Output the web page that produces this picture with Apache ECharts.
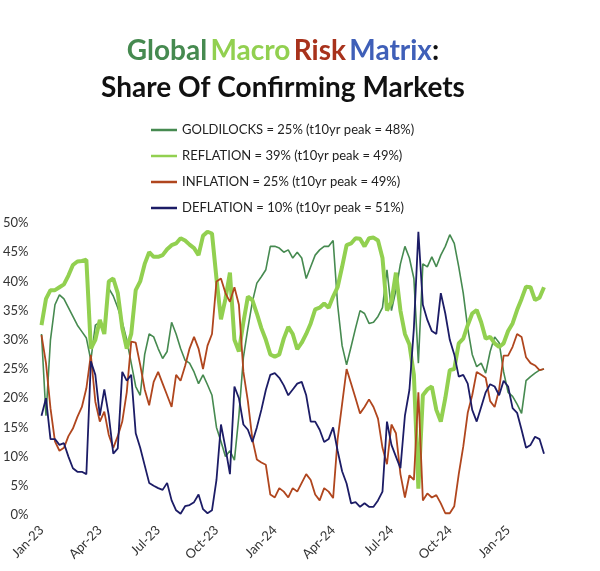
<!DOCTYPE html>
<html>
<head>
<meta charset="utf-8">
<script src="https://cdn.jsdelivr.net/npm/echarts@6.0.0/dist/echarts.min.js"></script>
<style>
  html, body { margin: 0; padding: 0; background: #fff; }
  #chart { width: 600px; height: 571px; }
</style>
</head>
<body>
<div id="chart"></div>
<script>
// weekly readings, first week of Jan 2023 to late Feb 2025
const startDate = new Date(Date.UTC(2023, 0, 2));
const weekCount = 113;
const weeks = [];
for (let i = 0; i < weekCount; i++) {
  const d = new Date(startDate.getTime() + i * 7 * 86400000);
  weeks.push(d.toISOString().slice(0, 10));
}

// one label every 13 weeks
const tickLabels = ['Jan-23', 'Apr-23', 'Jul-23', 'Oct-23', 'Jan-24', 'Apr-24', 'Jul-24', 'Oct-24', 'Jan-25'];

const seriesNames = [
  'GOLDILOCKS = 25% (t10yr peak = 48%)',
  'REFLATION = 39% (t10yr peak = 49%)',
  'INFLATION = 25% (t10yr peak = 49%)',
  'DEFLATION = 10% (t10yr peak = 51%)'
];

const goldilocks = [
  31, 17, 30, 36, 37.7, 37, 35.5, 34, 32.5, 31.4, 30.3, 26.5, 32.5, 33, 32, 38.8,
  37.5, 35.5, 33, 30, 26, 22, 20.5, 27.5, 31, 30.5, 28.5, 26.8, 28, 33, 31, 28.5,
  26.5, 26, 24.5, 22.5, 24, 22.3, 20.5, 15, 12.6, 10, 11, 9.4, 17, 27, 32, 36.5,
  39.7, 40.8, 42, 46, 46, 45.7, 45, 45.4, 44, 45, 44, 40.5, 42.5, 44.5, 45.4, 46,
  46, 47, 36, 29, 25.7, 28.8, 32, 35, 34.5, 32.8, 33, 34, 35.5, 42, 35, 38.5,
  43, 46, 44, 40.5, 26, 43, 42.5, 44.2, 42.5, 44.5, 46, 48, 46.5, 42.5, 38, 32,
  27.5, 25.4, 26, 24.3, 28, 30.5, 29.5, 24.5, 21, 20.3, 19, 17.4, 23, 23.7, 24.3, 24.8,
  25
];

const reflation = [
  32.5, 37, 38.5, 38.5, 39, 39.5, 41, 42.8, 43.4, 43.5, 43.7, 28.5, 30, 33.4, 31, 40,
  40.5, 38, 32, 28.5, 31, 38.5, 40, 43, 45, 44.2, 44.2, 44.5, 45.5, 46.2, 46.5, 47.4,
  47, 46.3, 45.7, 44.5, 47.8, 48.5, 48.2, 40.5, 33.5, 37, 41.5, 30, 28, 33, 37.4, 36.8,
  34.5, 32, 30, 27.5, 27.1, 27.5, 30.2, 32.2, 31, 28.4, 29.5, 31, 32.8, 35.2, 35.5, 36.2,
  35.5, 37.4, 39, 42.5, 46.2, 46.5, 47.4, 47.3, 46, 47.4, 47.5, 47, 44, 35, 36.5, 41.5,
  35, 31, 29.2, 24, 4.5, 20.5, 21.5, 22, 18, 16, 20, 24.8, 25, 29.4, 30.2, 32.5,
  34.5, 35.1, 33, 30.2, 30.5, 29.4, 28.8, 29.4, 31.5, 32.8, 35.1, 37, 39.1, 39, 36.8, 37.2,
  39
];

const inflation = [
  30.8, 26, 18.3, 12.6, 11, 11.5, 13.5, 14.8, 16.8, 18.5, 21.7, 27.4, 19.4, 16, 17.7, 13.7,
  11.5, 13.5, 16, 21, 29.7, 29.5, 25.7, 21.5, 18.8, 22.8, 24.5, 22.5, 20.5, 18.5, 24, 23,
  25.5, 28.5, 30.5, 28.5, 25, 29, 31, 40, 40.5, 38, 36.5, 39, 36, 24.5, 19.5, 13,
  9.5, 9, 8.6, 3.5, 3, 4.6, 4, 3, 4.6, 4, 5.5, 7, 6, 3.5, 2.5, 4.6,
  4, 2.9, 13, 19, 25, 22.5, 20, 17.4, 18.5, 19.8, 18.5, 16.5, 11.5, 8.7, 15.5, 14,
  7, 3, 6.8, 6, 21, 2.5, 3.7, 3, 3.4, 2, 0.3, 0.3, 1.5, 7, 11.7, 17.5,
  20.5, 24.5, 24, 23.5, 19.5, 18.5, 21.5, 27.3, 27.3, 28.8, 31, 30.5, 27, 26, 25.6, 24.8,
  25
];

const deflation = [
  17, 20, 13, 13, 12, 12.3, 10, 8, 7.4, 7.4, 7, 26.3, 24, 17, 21.5, 17,
  10.5, 11.4, 24.5, 23, 24, 14, 11.5, 8.5, 5.5, 5, 4.6, 4.3, 5.5, 2.5, 0.8, 0.2,
  1.5, 1.7, 2.2, 3.5, 1, 0.3, 0.8, 6, 15.5, 11.5, 7, 22, 20, 15.5, 14.6, 12.5,
  15, 18, 21.4, 24, 24.3, 23.5, 22.2, 20.5, 21.5, 22.5, 22.8, 20.5, 16, 16, 14.6, 12.5,
  13, 15, 11, 7.5, 5.4, 2, 2.2, 1.4, 2, 1.4, 1.4, 2.5, 4, 16, 12, 10,
  8, 17, 21.4, 32, 48.5, 36, 33.4, 31.5, 31, 38, 34.5, 30, 27.5, 23.7, 24, 22.5,
  18, 16, 18.5, 21, 22.4, 22, 20.5, 23, 22, 18.3, 17.5, 14.6, 11.5, 12, 13.4, 13,
  10.5
];

const colors = ['#468a50', '#92d050', '#b0461e', '#1c1c66'];
const widths = [1.6, 4, 1.8, 1.8];
const values = [goldilocks, reflation, inflation, deflation];

const chart = echarts.init(document.getElementById('chart'), null, { renderer: 'canvas' });

const font = 'Lato, "Open Sans", sans-serif';
const titleSize = 28;

chart.setOption({
  animation: false,
  backgroundColor: '#fff',
  graphic: [
    {
      type: 'text',
      x: 283,
      y: 51,
      style: {
        text: '{g|Global} {m|Macro} {r|Risk} {b|Matrix}{k|:}',
        textAlign: 'center',
        textVerticalAlign: 'middle',
        rich: {
          g: { fontFamily: font, fontWeight: 'bold', fontSize: titleSize, fill: '#468a50' },
          m: { fontFamily: font, fontWeight: 'bold', fontSize: titleSize, fill: '#92d050' },
          r: { fontFamily: font, fontWeight: 'bold', fontSize: titleSize, fill: '#a8321c' },
          b: { fontFamily: font, fontWeight: 'bold', fontSize: titleSize, fill: '#3f5fb8' },
          k: { fontFamily: font, fontWeight: 'bold', fontSize: titleSize, fill: '#111' }
        }
      }
    },
    {
      type: 'text',
      x: 283,
      y: 88,
      style: {
        text: 'Share Of Confirming Markets',
        textAlign: 'center',
        textVerticalAlign: 'middle',
        fontFamily: font,
        fontWeight: 'bold',
        fontSize: titleSize,
        fill: '#111'
      }
    }
  ],
  legend: {
    orient: 'vertical',
    left: 151,
    top: 123,
    padding: 0,
    icon: 'rect',
    itemWidth: 26,
    itemHeight: 2.5,
    itemGap: 12,
    textStyle: { fontFamily: font, fontSize: 13, lineHeight: 14, color: '#222' },
    data: seriesNames
  },
  grid: { left: 38, right: 56, top: 223, bottom: 56 },
  xAxis: {
    type: 'category',
    data: weeks,
    boundaryGap: false,
    axisLine: { show: false },
    axisTick: { show: false },
    splitLine: { show: false },
    axisLabel: {
      rotate: 45,
      margin: 13,
      fontFamily: font,
      fontSize: 13,
      color: '#333',
      interval: function (index) { return index % 13 === 0; },
      formatter: function (value, index) { return tickLabels[Math.round(index / 13)] || ''; }
    }
  },
  yAxis: {
    type: 'value',
    min: 0,
    max: 50,
    interval: 5,
    axisLine: { show: false },
    axisTick: { show: false },
    splitLine: { show: false },
    axisLabel: {
      margin: 13,
      fontFamily: font,
      fontSize: 13,
      color: '#333',
      formatter: '{value}%'
    }
  },
  series: seriesNames.map(function (name, i) {
    return {
      name: name,
      type: 'line',
      data: values[i],
      symbol: 'none',
      color: colors[i],
      lineStyle: { color: colors[i], width: widths[i] },
      z: 2 + i
    };
  })
});
</script>
</body>
</html>
